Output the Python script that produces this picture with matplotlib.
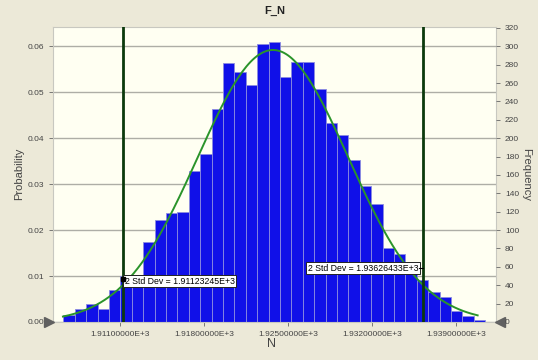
import matplotlib.pyplot as plt
import numpy as np

plt.rcParams['font.family'] = ['Liberation Sans', 'DejaVu Sans']

# histogram of N (probability per bin)
bin_start = 1906.28
bin_width = 0.95
probs = [0.0015, 0.0029, 0.0040, 0.0028, 0.0069, 0.0100, 0.0100, 0.0174,
         0.0223, 0.0238, 0.0239, 0.0328, 0.0366, 0.0464, 0.0564, 0.0543,
         0.0516, 0.0604, 0.0609, 0.0533, 0.0566, 0.0566, 0.0508, 0.0434,
         0.0406, 0.0353, 0.0295, 0.0257, 0.0162, 0.0147, 0.0118, 0.0091,
         0.0065, 0.0054, 0.0023, 0.0013, 0.0005]

# fitted normal and +/- 2 std dev markers
sd_low = 1911.23245
sd_high = 1936.26433
curve_peak = 0.0592
curve_range = (1906.25, 1940.8)

x_ticks = [1911, 1918, 1925, 1932, 1939]
x_labels = ['1.91100000E+3', '1.91800000E+3', '1.92500000E+3',
            '1.93200000E+3', '1.93900000E+3']
prob_ticks = [0.00, 0.01, 0.02, 0.03, 0.04, 0.05, 0.06]
freq_ticks = list(range(0, 321, 20))

fig = plt.figure(figsize=(5.38, 3.60), dpi=100, facecolor='#ece9d8')
ax = fig.add_axes([53 / 538, 1 - 322 / 360, 443 / 538, 295 / 360])
ax.set_facecolor('#fffff2')

lefts = bin_start + bin_width * np.arange(len(probs))
ax.bar(lefts, probs, width=bin_width, align='edge', color='#1010e8',
       edgecolor='#8c8ce0', linewidth=0.6, zorder=2)

# normal curve through the two 2-std-dev points
mean = (sd_low + sd_high) / 2
sd = (sd_high - sd_low) / 4
xs = np.linspace(curve_range[0], curve_range[1], 200)
ys = curve_peak * np.exp(-0.5 * ((xs - mean) / sd) ** 2)
ax.plot(xs, ys, color='#2a942a', linewidth=1.4, zorder=3)

for v in (sd_low, sd_high):
    ax.axvline(v, color='#0c3a0c', linewidth=2, zorder=4)

box = dict(boxstyle='square,pad=0.15', fc='white', ec='#222222', lw=0.7)
ax.text(sd_low + 0.15, 0.0089, '2 Std Dev = 1.91123245E+3', fontsize=6.3,
        ha='left', va='center', zorder=5, bbox=box)
ax.plot([sd_low], [0.0093], marker='s', ms=3, color='black', zorder=5)
ax.text(sd_high - 0.4, 0.0117, '2 Std Dev = 1.93626433E+3', fontsize=6.3,
        ha='right', va='center', zorder=5, bbox=box)
ax.plot([sd_high - 0.35, sd_high], [0.0117, 0.0117], color='black', lw=0.8, zorder=5)

ax.set_xlim(1905.42, 1942.33)
ax.set_ylim(0, 0.0642)
ax.set_xticks(x_ticks)
ax.set_xticklabels(x_labels)
ax.set_yticks(prob_ticks)
ax.set_yticklabels(['%.2f' % t for t in prob_ticks])
ax.yaxis.grid(True, color='#aeaea6', linewidth=1, zorder=0)
ax.set_axisbelow(True)
ax.tick_params(labelsize=6, colors='#666666', length=3, width=0.6,
               labelcolor='#444444')
for s in ax.spines.values():
    s.set_color('#c8c8c0')
    s.set_linewidth(0.8)

ax2 = ax.twinx()
ax2.set_ylim(0, 321)
ax2.set_yticks(freq_ticks)
ax2.tick_params(labelsize=6, colors='#666666', length=3, width=0.6,
                labelcolor='#444444')
for s in ax2.spines.values():
    s.set_visible(False)

# slider handles on the axis
ax.plot([-0.01], [0], transform=ax.transAxes, marker='>', ms=7,
        color='#606060', clip_on=False, zorder=6)
ax.plot([1.01], [0], transform=ax.transAxes, marker='<', ms=7,
        color='#606060', clip_on=False, zorder=6)

fig.text(275 / 538, 1 - 11 / 360, 'F_N', ha='center', va='center',
         fontsize=8, fontweight='bold', color='#222222')
fig.text(19 / 538, 1 - 174 / 360, 'Probability', rotation=90, ha='center',
         va='center', fontsize=8, color='#444444')
fig.text(526 / 538, 1 - 174 / 360, 'Frequency', rotation=270, ha='center',
         va='center', fontsize=8, color='#444444')
fig.text(272 / 538, 1 - 344 / 360, 'N', ha='center', va='center',
         fontsize=9, color='#444444')

fig.savefig('out.png', dpi=100, facecolor=fig.get_facecolor())
